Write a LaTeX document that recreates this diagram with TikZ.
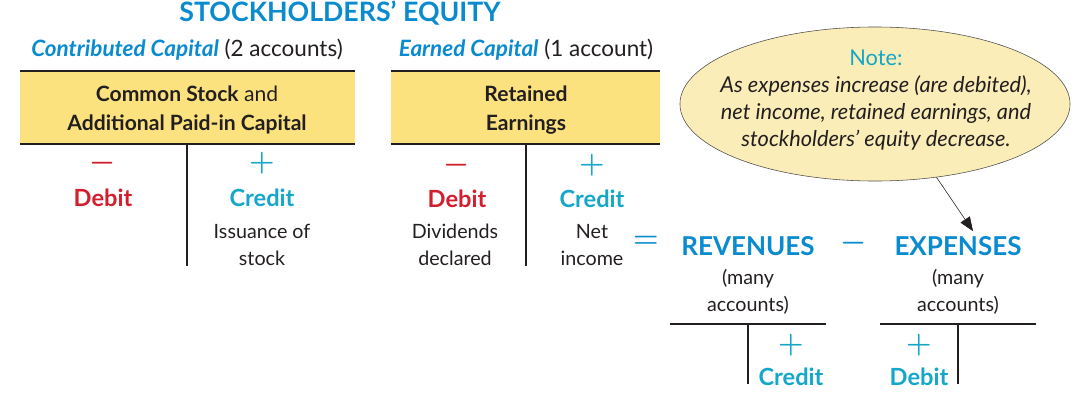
\documentclass[tikz,border=0pt]{standalone}
\usepackage{fontspec}
\setmainfont{Lato}
\usetikzlibrary{arrows.meta, positioning, shapes.geometric, calc}
\definecolor{eqblue}{HTML}{0A8BCF}
\definecolor{crcyan}{HTML}{14A7C9}
\definecolor{drred}{HTML}{D21F2E}
\definecolor{boxyellow}{HTML}{FCE27E}
\definecolor{noteyellow}{HTML}{FAEDB7}
\definecolor{ink}{HTML}{231F20}

\begin{document}
\begin{tikzpicture}[x=0.025cm, y=-0.025cm,
  body/.style={font=\fontsize{14}{19}\selectfont, text=ink, align=center, inner sep=0pt},
  head/.style={font=\fontsize{15}{21}\selectfont, text=ink, align=center, inner sep=0pt},
  group/.style={font=\fontsize{16}{18}\selectfont, text=ink, inner sep=0pt},
  side/.style={font=\fontsize{16.8}{18}\selectfont\bfseries, inner sep=0pt},
  sign/.style={font=\fontsize{20.5}{21}\selectfont\boldmath, inner sep=0pt},
  total/.style={font=\fontsize{18.5}{20}\selectfont\bfseries, text=eqblue, inner sep=0pt},
  tline/.style={line width=2.1pt, draw=ink}]
  \useasboundingbox (0,0) rectangle (1074,408);
  % Title
  \node[total, font=\fontsize{19}{20}\selectfont\bfseries] (title) at (340,13)
    {STOCKHOLDERS’ EQUITY};
  % Contributed capital T-account
  \node[group] (ccap) at (187,50)
    {\textcolor{eqblue}{\bfseries\itshape Contributed Capital} (2 accounts)};
  \fill[boxyellow] (20,71) rectangle (355,144);
  \draw[tline] (20,71) -- (355,71);
  \draw[tline] (20,144) -- (355,144) (187,144) -- (187,266);
  \node[head] (cs) at (187,110)
    {\textbf{Common Stock} and\\\textbf{Additional Paid-in Capital}};
  \node[sign, text=drred] (csminus) at (103,163) {$-$};
  \node[sign, text=crcyan] (csplus) at (262,163) {$+$};
  \node[side, text=drred] (csdr) at (103,198) {Debit};
  \node[side, text=crcyan] (cscr) at (262,198) {Credit};
  \node[body] (issue) at (262,245) {Issuance of\\stock};
  % Earned capital T-account
  \node[group] (ecap) at (526,50)
    {\textcolor{eqblue}{\bfseries\itshape Earned Capital} (1 account)};
  \fill[boxyellow] (391,71) rectangle (660,144);
  \draw[tline] (391,71) -- (660,71);
  \draw[tline] (391,144) -- (660,144) (526,144) -- (526,266);
  \node[head, font=\fontsize{15}{21}\selectfont\bfseries] (re) at (526,110)
    {Retained\\Earnings};
  \node[sign, text=drred] (reminus) at (457,165) {$-$};
  \node[sign, text=crcyan] (replus) at (592,165) {$+$};
  \node[side, text=drred] (redr) at (457,199) {Debit};
  \node[side, text=crcyan] (recr) at (592,199) {Credit};
  \node[body] (div) at (455,245) {Dividends\\declared};
  \node[body] (ni) at (592,245) {Net\\income};
  % Net income = revenues - expenses
  \node[sign, text=eqblue] (eq) at (646,242) {$=$};
  \node[total] (rev) at (748,246) {REVENUES};
  \node[sign, text=eqblue] (less) at (854,243) {$-$};
  \node[total] (exp) at (958,246) {EXPENSES};
  \node[body] (revn) at (748,292) {(many\\accounts)};
  \node[body] (expn) at (958,292) {(many\\accounts)};
  \draw[tline] (670,324) -- (826,324) (748,324) -- (748,384);
  \draw[tline] (880,324) -- (1036,324) (958,324) -- (958,384);
  \node[sign, text=crcyan] (revplus) at (791,345) {$+$};
  \node[side, text=crcyan] (revcr) at (791,377) {Credit};
  \node[sign, text=crcyan] (expplus) at (919,345) {$+$};
  \node[side, text=crcyan] (expdr) at (919,377) {Debit};
  % Note bubble
  \node[draw=ink!80, ellipse, fill=noteyellow, thin,
        minimum width=9.75cm, minimum height=3.85cm] (note) at (875,104) {};
  \node[body, font=\fontsize{15.5}{19}\selectfont\itshape] (notetxt) at (876,100)
    {\textcolor{crcyan}{\upshape Note:}\\
     As expenses increase (are debited),\\
     net income, retained earnings, and\\
     stockholders’ equity decrease.};
  \draw[-{Triangle[length=10pt,width=8pt]}, thin, ink] (note.-50)
    -- ($(exp.north)+(15,-5)$);
\end{tikzpicture}
\end{document}
